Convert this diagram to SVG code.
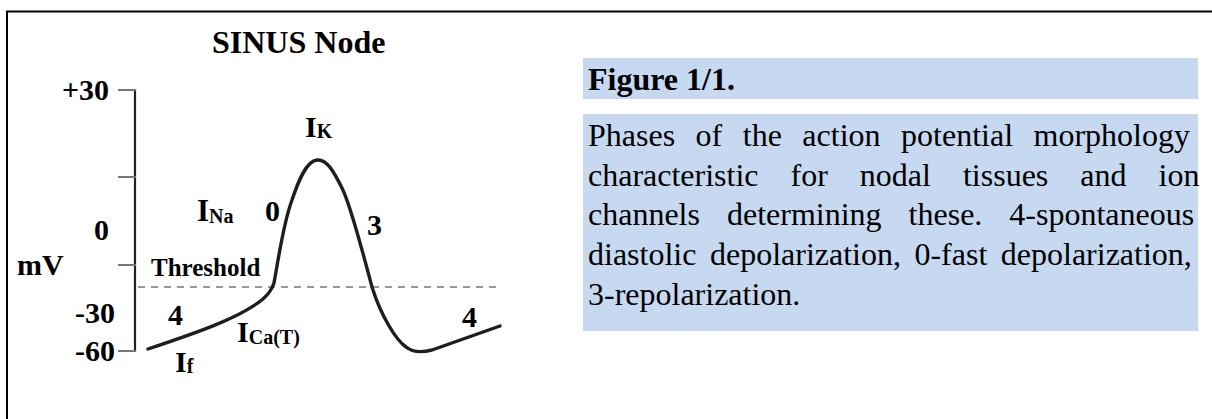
<svg xmlns="http://www.w3.org/2000/svg" width="1212" height="419" viewBox="0 0 1212 419">
  <style>
    .b { font-family: "Liberation Serif", "Times New Roman", serif; font-weight: bold; fill: #000; }
    .r { font-family: "Liberation Serif", "Times New Roman", serif; fill: #000; }
    .sub { font-size: 20px; }
    .tick { stroke: #777; stroke-width: 2; }
    .panel { fill: #C6D9F1; }
  </style>
  <rect width="1212" height="419" fill="#fff"/>

  <!-- outer frame (top and left edges only) -->
  <g id="frame" stroke="#000" stroke-width="2" fill="none">
    <path d="M7,419 V11.5 H1212"/>
  </g>

  <!-- title -->
  <g id="title">
    <text class="b" x="212" y="53" font-size="32">SINUS Node</text>
  </g>

  <!-- voltage axis -->
  <g id="axis">
    <line x1="135" y1="89" x2="135" y2="352" stroke="#222" stroke-width="2.2"/>
    <line class="tick" x1="118" y1="90" x2="136" y2="90"/>
    <line class="tick" x1="118" y1="177" x2="136" y2="177"/>
    <line class="tick" x1="118" y1="265" x2="136" y2="265"/>
    <line class="tick" x1="118" y1="351" x2="136" y2="351"/>
    <text class="b" x="109" y="100" font-size="30" text-anchor="end">+30</text>
    <text class="b" x="109" y="240" font-size="30" text-anchor="end">0</text>
    <text class="b" x="17" y="275" font-size="30">mV</text>
    <text class="b" x="115" y="323" font-size="30" text-anchor="end">-30</text>
    <text class="b" x="115" y="361" font-size="30" text-anchor="end">-60</text>
  </g>

  <!-- threshold level -->
  <g id="threshold">
    <line x1="138" y1="287" x2="497" y2="287" stroke="#777" stroke-width="1.6" stroke-dasharray="7,6"/>
    <text class="b" x="151" y="276" font-size="25">Threshold</text>
  </g>

  <!-- action potential trace -->
  <g id="connectors">
    <path id="trace" fill="none" stroke="#1e1e1e" stroke-width="3.4" stroke-linecap="round" stroke-linejoin="round"
      d="M148,349 C196,333 240,318 263,299 Q271,292 274,283 C278,262 283,224 292,200 C298,182 306,161 317,160 C327,159 334,172 342,188 C351,206 362,250 372,287 C381,316 396,340 406,347 C412,352 420,353 432,350 L500,326"/>
  </g>

  <!-- phase and current labels -->
  <g id="labels">
    <text class="b" x="305" y="137" font-size="30">I<tspan class="sub" dy="1">K</tspan></text>
    <text class="b" x="197" y="221" font-size="31">I<tspan class="sub" dy="2">Na</tspan></text>
    <text class="b" x="237" y="342" font-size="30">I<tspan class="sub" dy="2">Ca(T)</tspan></text>
    <text class="b" x="175" y="372" font-size="30">I<tspan class="sub" dy="1">f</tspan></text>
    <text class="b" x="265" y="221" font-size="30">0</text>
    <text class="b" x="367" y="235" font-size="30">3</text>
    <text class="b" x="168" y="325" font-size="30">4</text>
    <text class="b" x="462" y="327" font-size="30">4</text>
  </g>

  <!-- caption heading -->
  <g id="caption-title">
    <rect class="panel" x="583" y="58" width="615" height="41"/>
    <text class="b" x="588" y="90" font-size="32">Figure 1/1.</text>
  </g>

  <!-- caption body, justified lines -->
  <g id="caption-body">
    <rect class="panel" x="583" y="114" width="615" height="217"/>
    <text class="r" x="588" y="146" font-size="32" word-spacing="12.5">Phases of the action potential morphology</text>
    <text class="r" x="588" y="186" font-size="32" word-spacing="24">characteristic for nodal tissues and ion</text>
    <text class="r" x="588" y="225" font-size="32" word-spacing="19">channels determining these. 4-spontaneous</text>
    <text class="r" x="588" y="265" font-size="32" word-spacing="5.5">diastolic depolarization, 0-fast depolarization,</text>
    <text class="r" x="588" y="305" font-size="32">3-repolarization.</text>
  </g>
</svg>
